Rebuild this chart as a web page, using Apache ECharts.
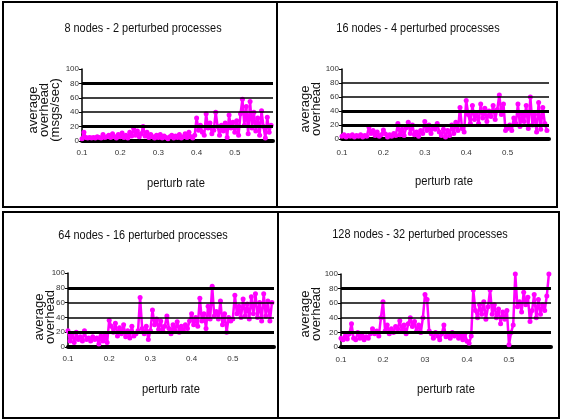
<!DOCTYPE html>
<html>
<head>
<meta charset="utf-8">
<script src="https://cdn.jsdelivr.net/npm/echarts@6/dist/echarts.min.js"></script>
<style>
html,body{margin:0;padding:0;background:#fff;}
#c{width:563px;height:420px;}
</style>
</head>
<body>
<div id="c"></div>
<script>
// perturb rate (x grid)
const rates = [0.100,0.105,0.110,0.115,0.120,0.125,0.130,0.135,0.140,0.145,
0.150,0.155,0.160,0.165,0.170,0.175,0.180,0.185,0.190,0.195,
0.200,0.205,0.210,0.215,0.220,0.225,0.230,0.235,0.240,0.245,
0.250,0.255,0.260,0.265,0.270,0.275,0.280,0.285,0.290,0.295,
0.300,0.305,0.310,0.315,0.320,0.325,0.330,0.335,0.340,0.345,
0.350,0.355,0.360,0.365,0.370,0.375,0.380,0.385,0.390,0.395,
0.400,0.405,0.410,0.415,0.420,0.425,0.430,0.435,0.440,0.445,
0.450,0.455,0.460,0.465,0.470,0.475,0.480,0.485,0.490,0.495,
0.500,0.505,0.510,0.515,0.520,0.525,0.530,0.535,0.540,0.545,
0.550,0.555,0.560,0.565,0.570,0.575,0.580,0.585,0.590,0.595];

// 8 nodes - 2 perturbed processes
const overhead8 = [3,12,5,4,5,4,5,4,6,5,
4,9,5,6,8,5,10,6,4,9,
6,11,5,8,4,12,7,18,8,14,
6,10,20,7,12,5,9,6,4,8,
5,9,4,7,5,3,6,8,4,7,
5,9,4,6,10,5,12,6,4,8,
32,15,22,12,8,38,18,25,10,15,
40,20,8,22,14,25,5,36,18,26,
12,28,8,38,58,22,48,10,55,18,
40,14,32,8,42,20,4,33,12,22];

// 16 nodes - 4 perturbed processes
const overhead16 = [4,6,3,5,4,6,3,5,4,6,
3,5,4,17,8,12,5,10,4,6,
13,7,3,6,4,8,5,22,6,14,
5,16,24,8,20,6,10,4,12,8,
25,12,20,8,18,14,22,10,5,14,
3,12,5,20,8,24,12,45,15,10,
55,35,22,48,28,38,22,50,30,44,
25,40,32,48,28,42,63,35,50,12,
15,20,12,30,22,50,18,35,25,48,
15,60,20,35,10,52,14,45,22,12];

// 64 nodes - 16 perturbed processes
const overhead64 = [22,8,18,6,20,10,14,8,22,10,
12,8,14,10,12,4,15,8,16,6,
36,28,20,32,15,26,18,30,14,22,
12,28,15,18,22,67,25,18,28,10,
22,50,30,38,24,35,22,28,42,25,
18,30,22,34,20,28,22,30,25,35,
45,30,40,28,66,35,45,25,55,38,
82,42,48,38,62,30,45,20,40,35,
38,70,45,55,40,65,42,58,38,68,
45,72,40,60,35,72,42,62,35,60];

// 128 nodes - 32 perturbed processes
const overhead128 = [12,10,15,11,18,32,12,10,20,12,
16,10,14,12,18,25,18,22,15,40,
62,22,30,18,25,20,28,25,36,22,
30,18,32,40,28,35,22,30,20,40,
72,65,22,18,12,20,15,10,18,30,
14,18,12,20,15,18,12,16,10,18,
8,5,15,78,50,40,58,45,62,38,
55,78,45,58,40,52,32,48,38,50,
3,20,30,100,55,62,48,75,58,68,
35,50,72,40,65,45,58,50,70,100];

const titles = ["8 nodes - 2 perturbed processes","16 nodes - 4 perturbed processes",
  "64 nodes - 16 perturbed processes","128 nodes - 32 perturbed processes"];
const yNames = ["average\noverhead\n(msgs/sec)","average\noverhead","average\noverhead","average\noverhead"];
const xTickLabels = [["0.1","0.2","0.3","0.4","0.5"],["0.1","0.2","0.3","0.4","0.5"],
  ["0.1","0.2","0.3","0.4","0.5"],["0.1","0.2","03","0.4","0.5"]];
const yTicks = [20,40,60,80];
const xName = "perturb rate";
const allSeries = [overhead8, overhead16, overhead64, overhead128];

const SANS = "'Liberation Sans',Arial,sans-serif";

const grids = [
  {left:82, top:69, width:191, height:72},
  {left:342, top:69, width:207, height:70},
  {left:68, top:273, width:206, height:74},
  {left:341, top:274, width:210, height:73}
];
const gridWidths = [[3,1.5,1.5,3],[3,3,1.5,1.5],[3,1.5,1.5,3],[3,1.5,1.5,3]];
const labelMargins = [8,10,8,9];
const titlePos = [[143,28],[418,28],[143,235],[420,234]];
const xNamePos = [[176,183],[444,181],[171,389],[446,389]];
const yNamePos = [[44,110],[311,109],[45,317],[311,314]];

const xAxes = [], yAxes = [], series = [], graphics = [];
grids.forEach((g, i) => {
  const labs = xTickLabels[i];
  xAxes.push({
    type:'value', gridIndex:i, min:0.1, max:0.6, interval:0.1,
    axisLine:{show:true, onZero:false, lineStyle:{color:'#000', width:4}},
    axisTick:{show:false}, splitLine:{show:false},
    axisLabel:{show:true, showMaxLabel:false, margin:labelMargins[i], fontSize:8, color:'#333', fontFamily:SANS,
      formatter:(v)=>{ const k = Math.round(v*10)-1; return labs[k] !== undefined ? labs[k] : ''; }}
  });
  yAxes.push({
    type:'value', gridIndex:i, min:0, max:100, interval:20,
    axisLine:{show:true, lineStyle:{color:'#000', width:1.5}},
    axisTick:{show:true, inside:false, length:3, lineStyle:{color:'#000', width:1}},
    splitLine:{show:false},
    axisLabel:{fontSize:8, color:'#333', margin:3, fontFamily:SANS}
  });
  series.push({
    type:'line', xAxisIndex:i, yAxisIndex:i, data:[], z:1, silent:true,
    markLine:{silent:true, symbol:'none', label:{show:false}, animation:false,
      data: yTicks.map((t,k)=>({yAxis:t, lineStyle:{color:'#000', type:'solid', width:gridWidths[i][k]}}))}
  });
  series.push({
    type:'line', xAxisIndex:i, yAxisIndex:i, z:3,
    data: rates.map((r,k)=>[r, allSeries[i][k]]),
    symbol:'circle', symbolSize:5, showAllSymbol:true,
    lineStyle:{color:'#ff00ff', width:2.5}, itemStyle:{color:'#ff00ff'}
  });
  graphics.push({type:'text', x:titlePos[i][0], y:titlePos[i][1], scaleX:0.84,
    style:{text:titles[i], font:"13px "+SANS, fill:'#111', textAlign:'center', textVerticalAlign:'middle'}});
  graphics.push({type:'text', x:xNamePos[i][0], y:xNamePos[i][1], scaleX:0.86,
    style:{text:xName, font:"13px "+SANS, fill:'#111', textAlign:'center', textVerticalAlign:'middle'}});
  graphics.push({type:'text', x:yNamePos[i][0], y:yNamePos[i][1], rotation:Math.PI/2,
    style:{text:yNames[i], font:"13px "+SANS, lineHeight:11, fill:'#111', textAlign:'center', textVerticalAlign:'middle'}});
});

// panel frames
graphics.push({type:'rect', shape:{x:3, y:2, width:554, height:205}, style:{fill:'none', stroke:'#000', lineWidth:2}});
graphics.push({type:'rect', shape:{x:3, y:212, width:556, height:206}, style:{fill:'none', stroke:'#000', lineWidth:2}});
graphics.push({type:'line', shape:{x1:277, y1:2, x2:277, y2:207}, style:{stroke:'#000', lineWidth:2}});
graphics.push({type:'line', shape:{x1:278, y1:212, x2:278, y2:418}, style:{stroke:'#000', lineWidth:2}});

const chart = echarts.init(document.getElementById('c'), null, {renderer:'canvas'});
chart.setOption({
  animation:false,
  grid: grids,
  xAxis: xAxes,
  yAxis: yAxes,
  series: series,
  graphic: graphics
});
</script>
</body>
</html>
